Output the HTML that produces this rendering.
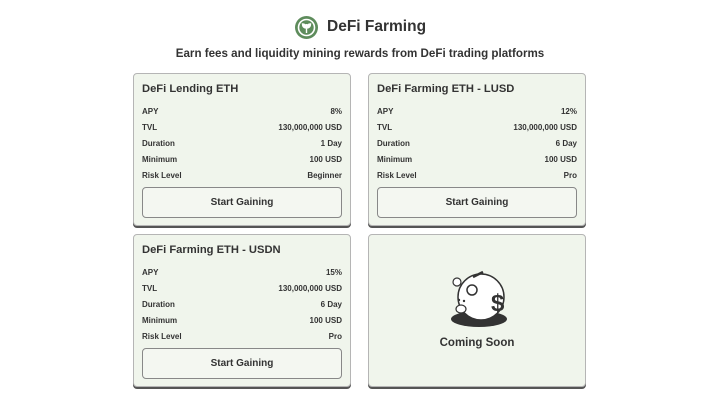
<!DOCTYPE html>
<html><head><meta charset="utf-8"><style>
*{margin:0;padding:0;box-sizing:border-box}
body{width:720px;height:412px;background:#fff;font-family:"Liberation Sans","DejaVu Sans",sans-serif;color:#2a2a2a;position:relative;overflow:hidden}
.hdr{position:absolute;top:15px;left:327px;font-size:15.5px;font-weight:bold;height:24px;line-height:24px;color:#333}
.logo{position:absolute;left:295px;top:16px;width:23px;height:23px;border-radius:50%;background:#5e8c5c}
.sub{position:absolute;top:47px;width:720px;text-align:center;font-size:11.6px;font-weight:bold;color:#333}
.card{position:absolute;width:218px;height:153px;background:#f0f5ec;border:1px solid #b5b5b5;border-radius:4px;box-shadow:0 2px 0 #555}
.card h3{position:absolute;left:8px;top:9px;font-size:11.2px;font-weight:bold;color:#333}
.row{position:absolute;left:8px;right:8px;font-size:8px;font-weight:bold;display:flex;justify-content:space-between;color:#333}
.btn{position:absolute;left:8px;right:8px;top:113px;height:31px;border:1px solid #888;border-radius:4px;background:#f4f7f1;font-size:10px;font-weight:bold;text-align:center;line-height:29px;color:#333}
</style></head><body>
<div class="logo"><svg width="23" height="23" viewBox="0 0 23 23"><circle cx="11.5" cy="11.5" r="8" fill="none" stroke="#fff" stroke-width="1.6"/><path d="M11.5 17V8M11.5 12c-3 0-4-2-4-4 2 0 4 1 4 4zM11.5 12c3 0 4-2 4-4-2 0-4 1-4 4z" stroke="#fff" stroke-width="1.4" fill="#fff"/></svg></div>
<div class="hdr">DeFi Farming</div>
<div class="sub">Earn fees and liquidity mining rewards from DeFi trading platforms</div>

<div class="card" style="left:133px;top:73px">
<h3>DeFi Lending ETH</h3>
<div class="row" style="top:33px"><span>APY</span><span>8%</span></div>
<div class="row" style="top:49px"><span>TVL</span><span>130,000,000 USD</span></div>
<div class="row" style="top:65px"><span>Duration</span><span>1 Day</span></div>
<div class="row" style="top:81px"><span>Minimum</span><span>100 USD</span></div>
<div class="row" style="top:97px"><span>Risk Level</span><span>Beginner</span></div>
<div class="btn">Start Gaining</div>
</div>

<div class="card" style="left:368px;top:73px">
<h3>DeFi Farming ETH - LUSD</h3>
<div class="row" style="top:33px"><span>APY</span><span>12%</span></div>
<div class="row" style="top:49px"><span>TVL</span><span>130,000,000 USD</span></div>
<div class="row" style="top:65px"><span>Duration</span><span>6 Day</span></div>
<div class="row" style="top:81px"><span>Minimum</span><span>100 USD</span></div>
<div class="row" style="top:97px"><span>Risk Level</span><span>Pro</span></div>
<div class="btn">Start Gaining</div>
</div>

<div class="card" style="left:133px;top:234px">
<h3>DeFi Farming ETH - USDN</h3>
<div class="row" style="top:33px"><span>APY</span><span>15%</span></div>
<div class="row" style="top:49px"><span>TVL</span><span>130,000,000 USD</span></div>
<div class="row" style="top:65px"><span>Duration</span><span>6 Day</span></div>
<div class="row" style="top:81px"><span>Minimum</span><span>100 USD</span></div>
<div class="row" style="top:97px"><span>Risk Level</span><span>Pro</span></div>
<div class="btn">Start Gaining</div>
</div>

<div class="card" style="left:368px;top:234px">
<svg style="position:absolute;left:78px;top:32px" width="62" height="62" viewBox="0 0 62 62">
<ellipse cx="32" cy="52" rx="28" ry="8" fill="#333"/>
<circle cx="34" cy="30" r="23" fill="#fff" stroke="#333" stroke-width="1.5"/>
<ellipse cx="10" cy="15" rx="4" ry="4" fill="#fff" stroke="#333" stroke-width="1.2"/>
<ellipse cx="25" cy="23" rx="5" ry="5" fill="#fff" stroke="#333" stroke-width="1.5"/>
<line x1="26" y1="10" x2="36" y2="5" stroke="#333" stroke-width="2.5"/>
<ellipse cx="14" cy="42" rx="5" ry="4" fill="#fff" stroke="#333" stroke-width="1.2"/>
<circle cx="12" cy="33" r="1.2" fill="#333"/><circle cx="17" cy="34" r="1.2" fill="#333"/>
<text x="44" y="44" font-size="24" font-weight="bold" fill="#333" font-family="Liberation Sans">$</text>
</svg>
<div style="position:absolute;top:102px;width:100%;text-align:center;font-size:11.5px;font-weight:bold;color:#333">Coming Soon</div>
</div>
</body></html>
